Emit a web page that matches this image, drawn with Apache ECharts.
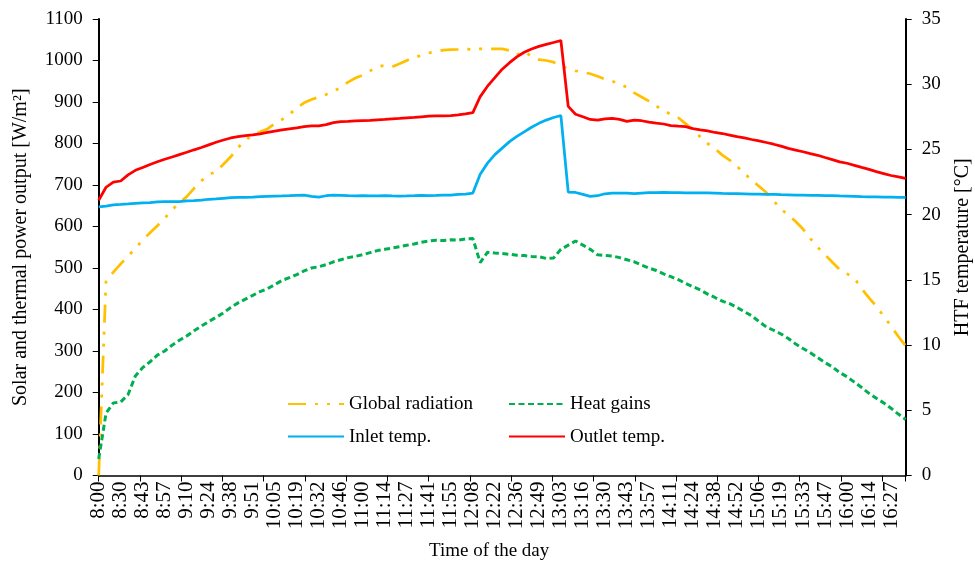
<!DOCTYPE html>
<html>
<head>
<meta charset="utf-8">
<script src="https://cdn.jsdelivr.net/npm/echarts@6/dist/echarts.min.js"></script>
<style>
  html, body { margin: 0; padding: 0; background: #fff; }
  #chart { width: 975px; height: 564px; }
</style>
</head>
<body>
<div id="chart"></div>
<script>
// Time-axis labels (one label every third sample)
const tickLabels = ['8:00','8:30','8:43','8:57','9:10','9:24','9:38','9:51','10:05','10:19','10:32','10:46',
  '11:00','11:14','11:27','11:41','11:55','12:08','12:22','12:36','12:49','13:03','13:16','13:30','13:43',
  '13:57','14:11','14:24','14:38','14:52','15:06','15:19','15:33','15:47','16:00','16:14','16:27'];
const samplesPerLabel = 3;

// Global radiation [W/m2]
const globalRadiation = [
  0, 470, 490, 510, 528, 548, 567, 585, 602, 620,
  640, 657, 672, 692, 710, 725, 732, 750, 768, 790,
  808, 820, 828, 835, 848, 858, 870, 886, 898, 906,
  912, 918, 926, 935, 948, 958, 965, 975, 985, 988,
  985, 992, 1000, 1008, 1012, 1018, 1022, 1025, 1026, 1027,
  1029, 1025, 1028, 1028, 1028, 1028, 1024, 1014, 1022, 1010,
  1002, 1000, 996, 988, 980, 975, 972, 968, 962, 955,
  950, 944, 935, 922, 912, 902, 890, 880, 870, 862,
  848, 832, 816, 800, 788, 772, 760, 745, 728, 712,
  697, 682, 662, 642, 628, 612, 594, 571, 550, 532,
  514, 496, 486, 476, 450, 428, 408, 384, 360, 335,
  312
];

// Heat gains [W/m2]
const heatGains = [
  40, 150, 175, 177, 195, 240, 260, 274, 290, 300,
  314, 326, 336, 349, 360, 371, 381, 392, 405, 416,
  425, 434, 443, 450, 460, 470, 477, 484, 493, 500,
  503, 508, 515, 520, 525, 528, 532, 537, 542, 545,
  548, 551, 555, 558, 562, 565, 567, 566, 568, 567,
  570, 571, 513, 538, 536, 535, 533, 531, 530, 528,
  527, 523, 524, 545, 555, 565, 555, 545, 532, 530,
  529, 525, 520, 515, 507, 500, 494, 486, 479, 472,
  463, 455, 447, 437, 429, 420, 414, 405, 395, 385,
  371, 358, 350, 341, 330, 317, 306, 296, 284, 272,
  262, 248, 238, 225, 212, 198, 186, 175, 162, 148,
  135
];

// Inlet HTF temperature [°C]
const inletTemp = [
  20.6, 20.65, 20.75, 20.78, 20.82, 20.87, 20.9, 20.93, 20.97, 21.0,
  21.0, 21.0, 21.05, 21.08, 21.12, 21.18, 21.2, 21.25, 21.3, 21.32,
  21.33, 21.35, 21.38, 21.4, 21.42, 21.43, 21.45, 21.48, 21.5, 21.4,
  21.35, 21.45, 21.5, 21.48, 21.45, 21.43, 21.45, 21.43, 21.43, 21.45,
  21.43, 21.42, 21.43, 21.45, 21.48, 21.45, 21.47, 21.5, 21.5, 21.55,
  21.58, 21.65, 23.1, 23.95, 24.6, 25.1, 25.6, 26.0, 26.35, 26.7,
  27.0, 27.25, 27.45, 27.6, 21.72, 21.7, 21.55, 21.4, 21.45, 21.6,
  21.65, 21.65, 21.65, 21.62, 21.65, 21.68, 21.68, 21.7, 21.68, 21.68,
  21.67, 21.67, 21.67, 21.66, 21.65, 21.63, 21.62, 21.62, 21.6, 21.58,
  21.57, 21.56, 21.55, 21.53, 21.52, 21.5, 21.5, 21.48, 21.47, 21.46,
  21.45, 21.43, 21.42, 21.4, 21.38, 21.37, 21.36, 21.35, 21.34, 21.33,
  21.32
];

// Outlet HTF temperature [°C]
const outletTemp = [
  21.1, 22.1, 22.5, 22.58, 23.05, 23.4, 23.62, 23.85, 24.05, 24.25,
  24.42, 24.6, 24.78, 24.97, 25.15, 25.35, 25.55, 25.72, 25.88, 25.98,
  26.05, 26.11, 26.2, 26.3, 26.4, 26.5, 26.58, 26.65, 26.75, 26.8,
  26.8, 26.9, 27.05, 27.13, 27.15, 27.18, 27.2, 27.22, 27.27, 27.3,
  27.35, 27.38, 27.42, 27.45, 27.5, 27.55, 27.57, 27.58, 27.6, 27.65,
  27.72, 27.82, 29.05, 29.85, 30.5, 31.15, 31.65, 32.1, 32.45, 32.7,
  32.9, 33.05, 33.2, 33.35, 28.3, 27.7, 27.5, 27.3, 27.25, 27.35,
  27.38, 27.3, 27.15, 27.25, 27.2, 27.1, 27.02, 26.95, 26.83, 26.78,
  26.75, 26.6, 26.5, 26.42, 26.3, 26.22, 26.1, 25.98, 25.88, 25.76,
  25.65, 25.53, 25.4, 25.25, 25.08, 24.95, 24.82, 24.68, 24.55, 24.38,
  24.22, 24.05, 23.94, 23.78, 23.62, 23.47, 23.3, 23.15, 23.0, 22.9,
  22.78
];

// Category list: a time label on every third sample, blanks between
const categories = globalRadiation.map((_, i) =>
  i % samplesPerLabel === 0 ? (tickLabels[i / samplesPerLabel] || '') : '');

const FONT = '"Liberation Serif", "Times New Roman", serif';
const textStyle = { fontFamily: FONT, fontSize: 19, color: '#000' };
const sideTitleStyle = Object.assign({}, textStyle, { fontSize: 20 });
const axisLineStyle = { color: '#000', width: 2 };
const plain = v => String(v);

const legendBase = {
  orient: 'vertical', top: 394, padding: 0,
  itemWidth: 56, itemHeight: 14, itemGap: 12.6,
  itemStyle: { opacity: 0 },
  textStyle: Object.assign({ lineHeight: 20 }, textStyle)
};

const chart = echarts.init(document.getElementById('chart'), null, { renderer: 'canvas' });

chart.setOption({
  animation: false,
  backgroundColor: '#fff',
  textStyle: { fontFamily: FONT },
  grid: { left: 98.7, right: 69.3, top: 19, bottom: 88.5, containLabel: false, outerBoundsMode: 'none' },
  legend: [
    Object.assign({ data: ['Global radiation', 'Inlet temp.'], left: 287 }, legendBase),
    Object.assign({ data: ['Heat gains', 'Outlet temp.'], left: 508 }, legendBase)
  ],
  xAxis: [
    {
      type: 'category',
      data: categories,
      boundaryGap: false,
      name: 'Time of the day',
      nameLocation: 'middle',
      nameGap: 66,
      nameTextStyle: Object.assign({ padding: [0, 26, 0, 0] }, textStyle),
      axisLine: { lineStyle: { color: '#000', width: 1.5 } },
      axisTick: { show: false },
      axisLabel: Object.assign({}, textStyle, {
        interval: samplesPerLabel - 1, rotate: 90, margin: 6, fontSize: 21
      }),
      splitLine: { show: false }
    },
    {
      // tick marks along the time axis
      type: 'value',
      position: 'bottom',
      min: 0,
      max: 19.57,
      interval: 1,
      axisLine: { show: false },
      axisTick: { show: true, length: 6, lineStyle: { color: '#000', width: 1 } },
      axisLabel: { show: false },
      splitLine: { show: false }
    }
  ],
  yAxis: [
    {
      type: 'value',
      min: 0, max: 1100, interval: 100,
      name: 'Solar and thermal power output [W/m²]',
      nameLocation: 'middle',
      nameRotate: 90,
      nameGap: 68,
      nameTextStyle: sideTitleStyle,
      axisLine: { show: true, lineStyle: axisLineStyle },
      axisTick: { show: true, length: 6, lineStyle: { color: '#000', width: 1 } },
      axisLabel: Object.assign({ margin: 16, formatter: plain }, textStyle),
      splitLine: { show: false }
    },
    {
      type: 'value',
      min: 0, max: 35, interval: 5,
      position: 'right',
      name: 'HTF temperature [°C]',
      nameLocation: 'middle',
      nameRotate: 90,
      nameGap: 47,
      nameTextStyle: sideTitleStyle,
      axisLine: { show: true, lineStyle: axisLineStyle },
      axisTick: { show: true, length: 6, lineStyle: { color: '#000', width: 1 } },
      axisLabel: Object.assign({ margin: 16, formatter: plain }, textStyle),
      splitLine: { show: false }
    }
  ],
  series: [
    {
      name: 'Global radiation',
      type: 'line',
      data: globalRadiation,
      yAxisIndex: 0,
      symbol: 'none',
      color: '#FFC000',
      lineStyle: { color: '#FFC000', width: 2.75, type: [18, 9, 3, 9, 3, 9] },
      z: 3
    },
    {
      name: 'Heat gains',
      type: 'line',
      data: heatGains,
      yAxisIndex: 0,
      symbol: 'none',
      color: '#00B050',
      lineStyle: { color: '#00B050', width: 3, type: [6, 3.5] },
      z: 3
    },
    {
      name: 'Inlet temp.',
      type: 'line',
      data: inletTemp,
      yAxisIndex: 1,
      symbol: 'none',
      color: '#00B0F0',
      lineStyle: { color: '#00B0F0', width: 2.75 },
      z: 3
    },
    {
      name: 'Outlet temp.',
      type: 'line',
      data: outletTemp,
      yAxisIndex: 1,
      symbol: 'none',
      color: '#FF0000',
      lineStyle: { color: '#FF0000', width: 2.75 },
      z: 3
    }
  ]
});
</script>
</body>
</html>
